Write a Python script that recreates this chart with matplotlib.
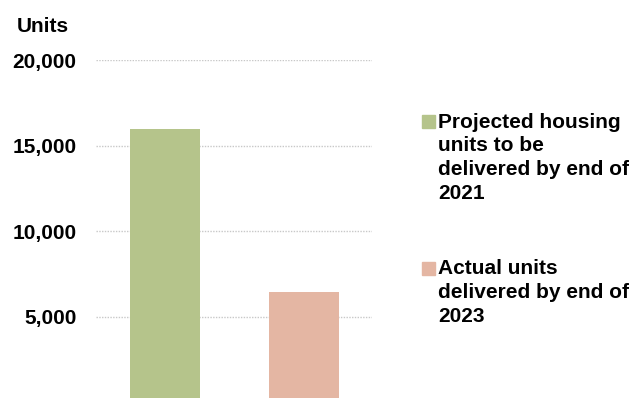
import matplotlib.pyplot as plt
from matplotlib.patches import Rectangle
from matplotlib.ticker import FuncFormatter

plt.rcParams['font.family'] = ['Liberation Sans', 'DejaVu Sans']

# data
categories = ['Projected housing\nunits to be\ndelivered by end of\n2021',
              'Actual units\ndelivered by end of\n2023']
values = [16000, 6450]
colors = ['#B5C48B', '#E4B6A3']
y_ticks = [5000, 10000, 15000, 20000]

fig = plt.figure(figsize=(6.34, 3.98), dpi=100)
ax = fig.add_axes([0.1514, -0.0113, 0.4353, 0.8605])

x = list(range(len(values)))
ax.bar(x, values, width=0.504, color=colors, zorder=2)

ax.set_xlim(-0.496, 1.49)
ax.set_ylim(0, 20000)
ax.set_yticks(y_ticks)
ax.yaxis.set_major_formatter(FuncFormatter(lambda v, p: f"{int(v):,}"))
ax.tick_params(axis='y', length=0, pad=14, labelsize=15)
for lbl in ax.get_yticklabels():
    lbl.set_fontweight('bold')
ax.set_xticks([])
ax.grid(axis='y', color='#C8C8C8', linestyle=(0, (1, 1)), linewidth=1, zorder=0)
for s in ax.spines.values():
    s.set_visible(False)

fig.text(17 / 634, 1 - 32 / 398, 'Units', fontsize=15, fontweight='bold',
         ha='left', va='baseline')

# legend drawn by hand so the square sits beside the first line
first_baselines = [128, 275]
for lab, col, yb in zip(categories, colors, first_baselines):
    fig.text(438 / 634, 1 - (yb - 15.5) / 398, lab, fontsize=15, fontweight='bold',
             ha='left', va='top', linespacing=1.32)
    fig.patches.append(Rectangle((422 / 634, 1 - (yb - 0.5) / 398), 13 / 634, 13 / 398,
                                 transform=fig.transFigure, color=col))

fig.savefig('out.png', dpi=100)
